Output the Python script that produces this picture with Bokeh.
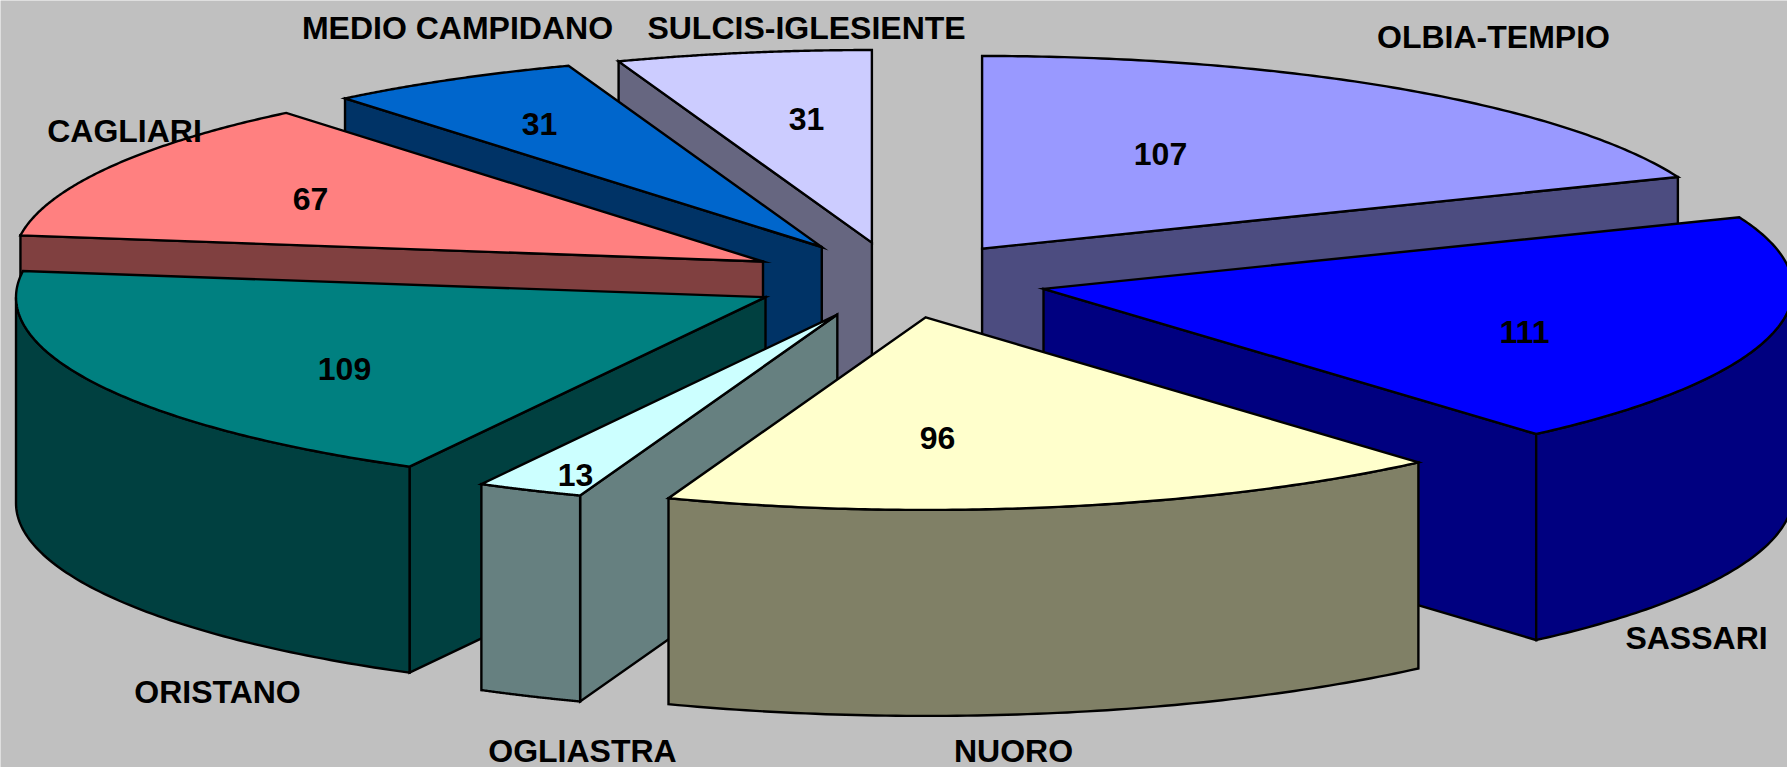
import numpy as np
from bokeh.plotting import figure
from bokeh.models import Range1d, ColumnDataSource
from bokeh.core.properties import value
from bokeh.embed import file_html
from bokeh.resources import INLINE

# ---- data (clockwise from twelve o'clock) ----
categories = ["OLBIA-TEMPIO", "SASSARI", "NUORO", "OGLIASTRA", "ORISTANO", "CAGLIARI", "MEDIO CAMPIDANO", "SULCIS-IGLESIENTE"]
values = [107, 111, 96, 13, 109, 67, 31, 31]

# ---- styles ----
top_colors = ["#9999FF", "#0000FF", "#FFFFCC", "#CCFFFF", "#008080", "#FF8080", "#0066CC", "#CCCCFF"]
wall_colors = ["#4C4C80", "#000080", "#808066", "#668080", "#004040", "#804040", "#003366", "#666680"]
draw_order = [0, 7, 6, 5, 4, 1, 3, 2]

# ---- layout (page pixels) ----
W, H = 1787, 767
CX, CY, RX, RY = 898.0, 279.5, 749.5, 192.6
DEPTH = 206.0
EXPLODE_X = 0.199
EXPLODE_BACK_LEFT = 0.207
EXPLODE_Y = 0.197
cat_label_pos = [(1493, 36), (1696, 637), (1013, 750), (582, 750), (217, 691), (124, 130), (457, 27), (806, 27)]
val_label_pos = [(1160, 153), (1524, 331), (937, 437), (575, 474), (344, 368), (310, 198), (539, 123), (806, 118)]
FONT = "Liberation Sans"
FONT_SIZE = "32px"

p = figure(width=W, height=H, output_backend="svg", toolbar_location=None,
           x_range=Range1d(0, W), y_range=Range1d(H, 0),
           background_fill_color="#C0C0C0", border_fill_color="#C0C0C0",
           outline_line_color=None, min_border=0)
p.xaxis.visible = False
p.yaxis.visible = False
p.grid.visible = False


def rim(theta):
    return RX * np.sin(theta), -RY * np.cos(theta)


cum = np.concatenate([[0], np.cumsum(values)]) / np.sum(values) * 2 * np.pi
xs, ys, fills = [], [], []


def add(x, y, c):
    xs.append(list(x)); ys.append(list(y)); fills.append(c)


def faces_viewer(theta, theta_out):
    rx, ry = rim(theta)
    px, py = rim(theta_out)
    if abs(rx) < 1e-6:
        return False
    return py > ry / rx * px


for i in draw_order:
    t1, t2 = cum[i], cum[i + 1]
    mid = (t1 + t2) / 2
    mx, my = rim(mid)
    ax = CX + (EXPLODE_BACK_LEFT if (mx < 0 and my < 0) else EXPLODE_X) * mx
    ay = CY + EXPLODE_Y * my
    # radial walls
    for t, out in ((t1, t1 - 0.02), (t2, t2 + 0.02)):
        if faces_viewer(t, out):
            rx, ry = rim(t)
            add([ax, ax + rx, ax + rx, ax], [ay, ay + ry, ay + ry + DEPTH, ay + DEPTH], wall_colors[i])
    # outer curved wall: only the part turned towards the viewer
    lo, hi = max(t1, np.pi / 2), min(t2, 3 * np.pi / 2)
    if hi > lo:
        th = np.linspace(lo, hi, 80)
        rx, ry = rim(th)
        add(np.concatenate([ax + rx, (ax + rx)[::-1]]),
            np.concatenate([ay + ry, (ay + ry + DEPTH)[::-1]]), wall_colors[i])
    # top face
    th = np.linspace(t1, t2, 120)
    rx, ry = rim(th)
    add(np.concatenate([[ax], ax + rx]), np.concatenate([[ay], ay + ry]), top_colors[i])

p.patches(xs, ys, fill_color=fills, line_color="black", line_width=2.4, line_join="miter")

src_cat = ColumnDataSource(dict(x=[c[0] for c in cat_label_pos], y=[c[1] for c in cat_label_pos], t=categories))
src_val = ColumnDataSource(dict(x=[c[0] for c in val_label_pos], y=[c[1] for c in val_label_pos], t=[str(v) for v in values]))
for s in (src_val, src_cat):
    p.text("x", "y", text="t", source=s, text_font=value(FONT), text_font_style="bold",
           text_font_size=value(FONT_SIZE), text_color="black", text_align="center", text_baseline="middle")

open("out.html", "w").write(file_html(p, INLINE))
